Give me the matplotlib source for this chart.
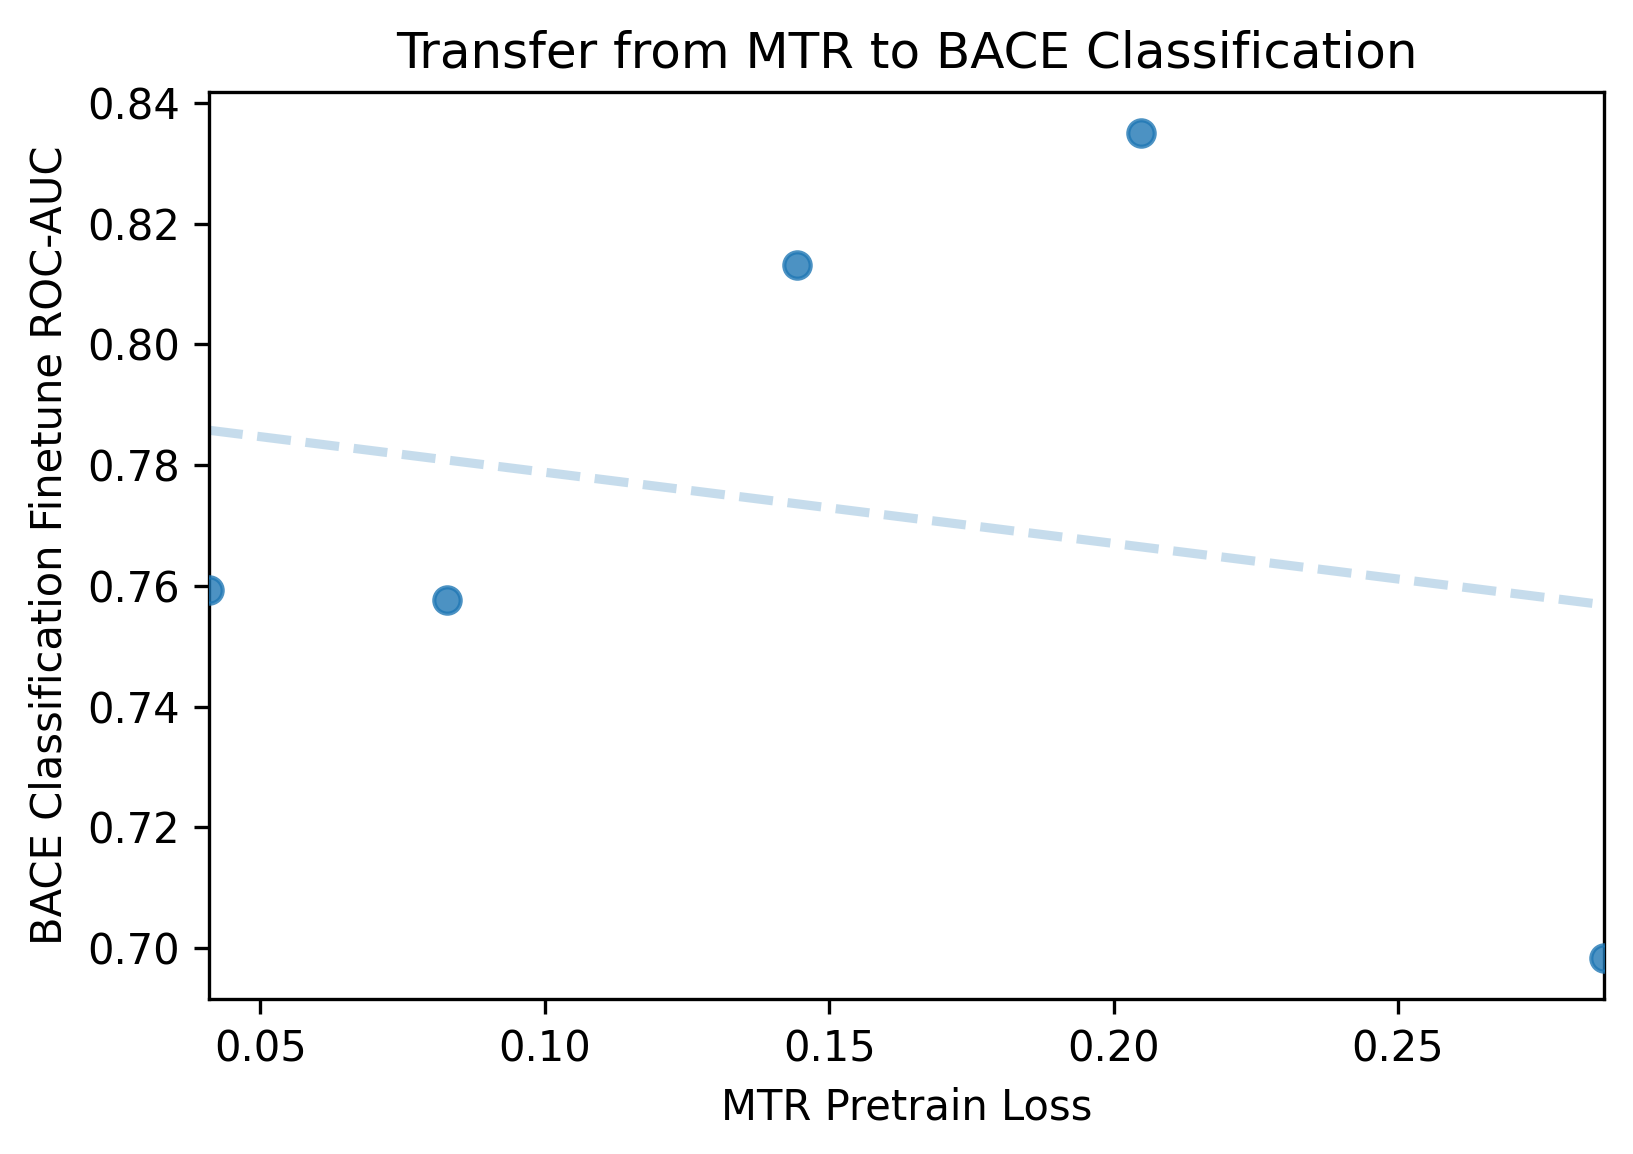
import numpy as np
import matplotlib
matplotlib.use("Agg")
import matplotlib.pyplot as plt

# MTR pretrain loss vs BACE finetune ROC-AUC
pretrain_loss = [0.0410, 0.0829, 0.1444, 0.2048, 0.2862]
finetune_auc = [0.7594, 0.7577, 0.8131, 0.8350, 0.6984]

x = np.array(pretrain_loss)
y = np.array(finetune_auc)

fig, ax = plt.subplots(figsize=(1633/300, 1154/300), dpi=300)
fig.subplots_adjust(left=209/1633, right=1604/1633, top=1-92/1154, bottom=1-999/1154)

ax.scatter(x, y, s=40, color='#1f77b4', alpha=0.8, linewidths=1, zorder=3)

slope, intercept = np.polyfit(x, y, 1)
ax.set_xlim(x.min(), x.max())
xs = np.array(ax.get_xlim())
ax.plot(xs, slope*xs + intercept, linestyle='--', linewidth=2.2, color='#1f77b4', alpha=0.25)
ax.set_xlim(x.min(), x.max())

ax.set_title('Transfer from MTR to BACE Classification', fontsize=12)
ax.set_xlabel('MTR Pretrain Loss')
ax.set_ylabel('BACE Classification Finetune ROC-AUC')

fig.savefig('out.png', dpi=300)
